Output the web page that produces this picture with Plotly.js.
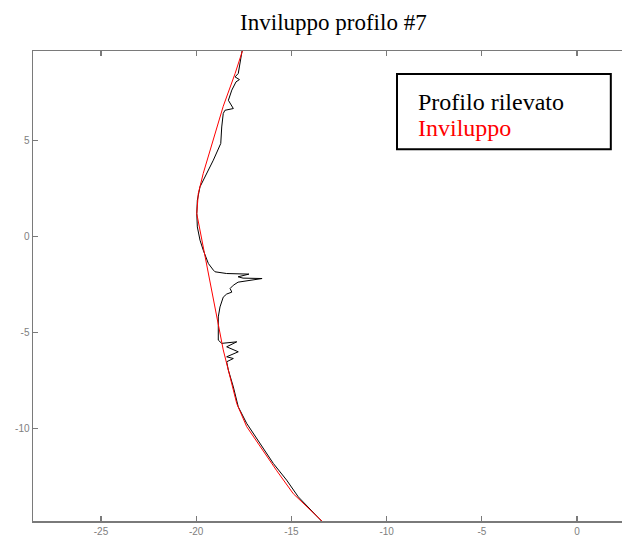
<!DOCTYPE html>
<html>
<head>
<meta charset="utf-8">
<script src="https://cdn.plot.ly/plotly-3.0.1.min.js"></script>
<style>html,body{margin:0;padding:0;background:#fff;}#chart{width:622px;height:538px;}</style>
</head>
<body>
<div id="chart"></div>
<script>
// Measured profile (Profilo rilevato): x and y values
const profileX = [-17.58, -17.79, -17.96, -17.73, -17.91, -18.13, -18.31, -18.22, -18.05, -18.49, -18.58, -18.66, -18.71, -19.10, -19.45, -19.80, -19.94, -19.97, -19.94, -19.80, -19.63, -19.36, -19.10, -19.01, -18.40, -17.23, -17.80, -17.54, -16.54, -17.80, -18.05, -18.22, -18.13, -18.40, -18.58, -18.75, -18.84, -18.84, -18.84, -18.66, -17.87, -18.40, -17.79, -18.40, -18.05, -18.40, -18.31, -18.05, -17.79, -17.35, -16.65, -15.95, -15.25, -14.64, -13.39];
const profileY = [9.75, 8.51, 8.33, 8.19, 8.07, 7.64, 7.11, 6.94, 6.68, 6.59, 6.42, 5.72, 4.86, 3.99, 3.30, 2.60, 1.90, 1.21, 0.51, -0.18, -0.70, -1.40, -1.74, -1.83, -1.92, -1.95, -2.09, -2.16, -2.18, -2.37, -2.53, -2.70, -2.89, -2.99, -3.15, -3.66, -4.18, -4.70, -5.39, -5.56, -5.48, -5.74, -6.00, -6.26, -6.35, -6.52, -6.96, -7.83, -8.87, -9.73, -10.78, -11.82, -12.69, -13.56, -14.85];

// Envelope (Inviluppo)
const envelopeX = [-17.55, -17.96, -18.58, -19.10, -19.63, -19.89, -19.97, -18.58, -18.22, -17.87, -17.35, -16.65, -15.77, -14.90, -13.37];
const envelopeY = [9.75, 8.5, 6.8, 5.0, 3.3, 2.25, 1.2, -5.9, -7.3, -8.7, -9.9, -10.95, -12.2, -13.4, -14.85];

const xTicks = [-25, -20, -15, -10, -5, 0];
const yTicks = [-10, -5, 0, 5];
const legendLines = ['Profilo rilevato', 'Inviluppo'];
const titleText = 'Inviluppo profilo #7';

const axisColor = '#7a7a7a';
const traces = [
  {x: profileX, y: profileY, mode: 'lines', line: {color: '#000000', width: 1}, showlegend: false, hoverinfo: 'skip'},
  {x: envelopeX, y: envelopeY, mode: 'lines', line: {color: '#ff0000', width: 1}, showlegend: false, hoverinfo: 'skip'}
];

const layout = {
  width: 622, height: 538,
  margin: {l: 33, r: 0, t: 51, b: 17, pad: 0},
  paper_bgcolor: '#ffffff', plot_bgcolor: '#ffffff',
  title: {text: titleText, font: {family: 'Liberation Serif', size: 23, color: '#000000'},
          x: 0.536, xanchor: 'center', xref: 'container', y: 0.96, yanchor: 'middle', yref: 'container'},
  xaxis: {range: [-28.57, 2.36], tickvals: xTicks, ticktext: xTicks.map(String), ticks: 'inside', ticklen: 5,
          tickcolor: axisColor, tickwidth: 1.3, showline: true, linecolor: axisColor, linewidth: 1.5,
          mirror: 'ticks', showgrid: false, zeroline: false,
          tickfont: {family: 'Liberation Sans', size: 10, color: '#808080'}},
  yaxis: {range: [-14.82, 9.68], tickvals: yTicks, ticktext: yTicks.map(String), ticks: 'inside', ticklen: 5,
          tickcolor: axisColor, tickwidth: 1.3, showline: true, linecolor: axisColor, linewidth: 1.5,
          mirror: false, showgrid: false, zeroline: false,
          tickfont: {family: 'Liberation Sans', size: 10, color: '#808080'}},
  shapes: [
    {type: 'rect', xref: 'paper', yref: 'paper', x0: 0.618, x1: 0.981, y0: 0.791, y1: 0.951,
     line: {color: '#000000', width: 2}, fillcolor: '#ffffff', layer: 'above'}
  ],
  annotations: [
    {xref: 'paper', yref: 'paper', x: 0.650, y: 0.892, xanchor: 'left', yanchor: 'middle', showarrow: false,
     text: legendLines[0], font: {family: 'Liberation Serif', size: 24, color: '#000000'}},
    {xref: 'paper', yref: 'paper', x: 0.650, y: 0.837, xanchor: 'left', yanchor: 'middle', showarrow: false,
     text: legendLines[1], font: {family: 'Liberation Serif', size: 24, color: '#ff0000'}}
  ]
};

Plotly.newPlot('chart', traces, layout, {staticPlot: true, displayModeBar: false});
</script>
</body>
</html>
